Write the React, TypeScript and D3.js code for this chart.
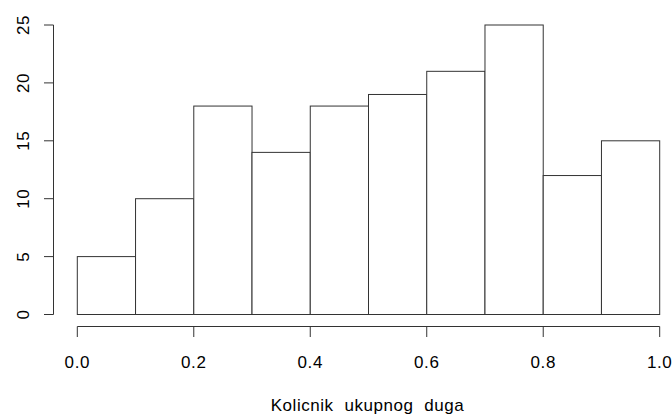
import React from "react";
import * as d3 from "d3";

// Histogram bins (lower edge, upper edge) and counts
const binStarts = [0.0, 0.1, 0.2, 0.3, 0.4, 0.5, 0.6, 0.7, 0.8, 0.9];
const binWidth = 0.1;
const counts = [5, 10, 18, 14, 18, 19, 21, 25, 12, 15];
const xTicks = [0.0, 0.2, 0.4, 0.6, 0.8, 1.0];
const yTicks = [0, 5, 10, 15, 20, 25];
const xLabel = "Kolicnik ukupnog duga";

const W = 672;
const H = 414;

export default function App() {
  const x = d3.scaleLinear().domain([0, 1]).range([77.3, 659.7]);
  const y = d3.scaleLinear().domain([0, 25]).range([314.5, 25]);
  const font = "'Liberation Sans', Arial, sans-serif";
  const ink = "#333";
  const textInk = "#000";
  const axisY = 326.5;
  const axisX = 53.5;
  const fs = 17;
  const ls = 0.6;

  return (
    <svg
      width={W}
      height={H}
      viewBox={`0 0 ${W} ${H}`}
      style={{ position: "absolute", left: 0, top: 0, background: "#fff" }}
    >
      {/* bars */}
      {binStarts.map((b, i) => (
        <rect
          key={i}
          x={x(b)}
          y={y(counts[i])}
          width={x(b + binWidth) - x(b)}
          height={y(0) - y(counts[i])}
          fill="#fff"
          stroke={ink}
          strokeWidth={1}
        />
      ))}

      {/* x axis */}
      <line x1={x(xTicks[0])} x2={x(xTicks[xTicks.length - 1])} y1={axisY} y2={axisY} stroke={ink} />
      {xTicks.map((t) => (
        <g key={t}>
          <line x1={x(t)} x2={x(t)} y1={axisY} y2={axisY + 10.5} stroke={ink} />
          <text
            x={x(t)}
            y={367.5}
            textAnchor="middle"
            fontFamily={font}
            fontSize={fs}
            letterSpacing={ls}
            fill={textInk}
          >
            {t.toFixed(1)}
          </text>
        </g>
      ))}

      {/* y axis */}
      <line x1={axisX} x2={axisX} y1={y(yTicks[0])} y2={y(yTicks[yTicks.length - 1])} stroke={ink} />
      {yTicks.map((t) => (
        <g key={t}>
          <line x1={axisX - 9.5} x2={axisX} y1={y(t)} y2={y(t)} stroke={ink} />
          <text
            transform={`translate(28.5,${y(t)}) rotate(-90)`}
            textAnchor="middle"
            fontFamily={font}
            fontSize={fs}
            letterSpacing={ls}
            fill={textInk}
          >
            {t}
          </text>
        </g>
      ))}

      {/* axis title */}
      <text
        x={367.5}
        y={411}
        textAnchor="middle"
        fontFamily={font}
        fontSize={fs}
        letterSpacing={0.55}
        wordSpacing={5.5}
        fill={textInk}
      >
        {xLabel}
      </text>
    </svg>
  );
}
